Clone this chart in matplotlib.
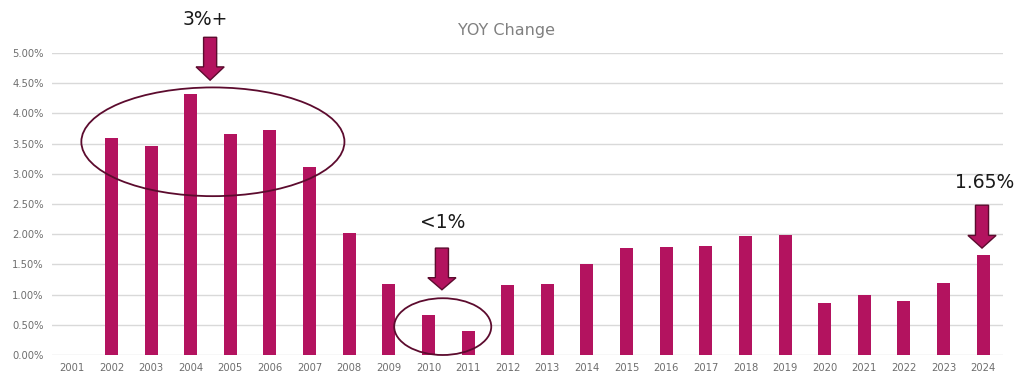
import matplotlib
matplotlib.use("Agg")
import matplotlib.pyplot as plt
from matplotlib.patches import Ellipse, FancyArrow
from matplotlib.ticker import FuncFormatter, MultipleLocator

years = [str(y) for y in range(2001, 2025)]
yoy = [0.0, 3.59, 3.46, 4.32, 3.66, 3.72, 3.11, 2.02, 1.18, 0.66, 0.40, 1.16,
       1.18, 1.51, 1.77, 1.79, 1.80, 1.97, 1.99, 0.86, 0.99, 0.89, 1.19, 1.65]

BAR = "#B3135F"
DARK = "#5C0B2E"

fig = plt.figure(figsize=(10.24, 3.86), dpi=100)
ax = fig.add_axes([0.0508, 0.0803, 0.9287, 0.7824])
x = list(range(len(years)))
ax.bar(x, yoy, width=0.33, color=BAR, zorder=3)

ax.set_xlim(-0.5, len(years) - 0.5)
ax.set_ylim(0, 5.0)
ax.yaxis.set_major_locator(MultipleLocator(0.5))
ax.yaxis.set_major_formatter(FuncFormatter(lambda v, p: f"{v:.2f}%"))
ax.set_xticks(x)
ax.set_xticklabels(years)
ax.grid(axis="y", color="#D9D9D9", linewidth=1, zorder=0)
for s in ax.spines.values():
    s.set_visible(False)
ax.tick_params(axis="both", length=0, labelsize=7.2, labelcolor="#6E6E6E")
ax.tick_params(axis="x", pad=6)
ax.tick_params(axis="y", pad=6)

fig.text(0.495, 0.922, "YOY Change", ha="center", va="center",
         fontsize=11.5, color="#808080")

# ellipses
ax.add_patch(Ellipse((3.56, 3.53), 6.64, 1.80, fill=False, edgecolor=DARK,
                     linewidth=1.3, zorder=4, clip_on=False))
ax.add_patch(Ellipse((9.36, 0.47), 2.45, 0.94, fill=False, edgecolor=DARK,
                     linewidth=1.3, zorder=4, clip_on=False))

# arrows (x, top, tip, head_length)
arrows = [(3.49, 5.26, 4.55, 0.22), (9.34, 1.77, 1.08, 0.20), (22.97, 2.48, 1.77, 0.21)]
for ax_x, top, tip, hl in arrows:
    ax.add_patch(FancyArrow(ax_x, top, 0, tip - top, width=0.33, head_width=0.71,
                            head_length=hl, length_includes_head=True,
                            facecolor=BAR, edgecolor=DARK, linewidth=1.0,
                            zorder=5, clip_on=False))

labels = [(3.37, 5.55, "3%+"), (9.37, 2.19, "<1%"), (23.03, 2.86, "1.65%")]
for tx, ty, t in labels:
    ax.text(tx, ty, t, ha="center", va="center", fontsize=13.5, color="#1A1A1A",
            clip_on=False)

fig.savefig("out.png", dpi=100)
